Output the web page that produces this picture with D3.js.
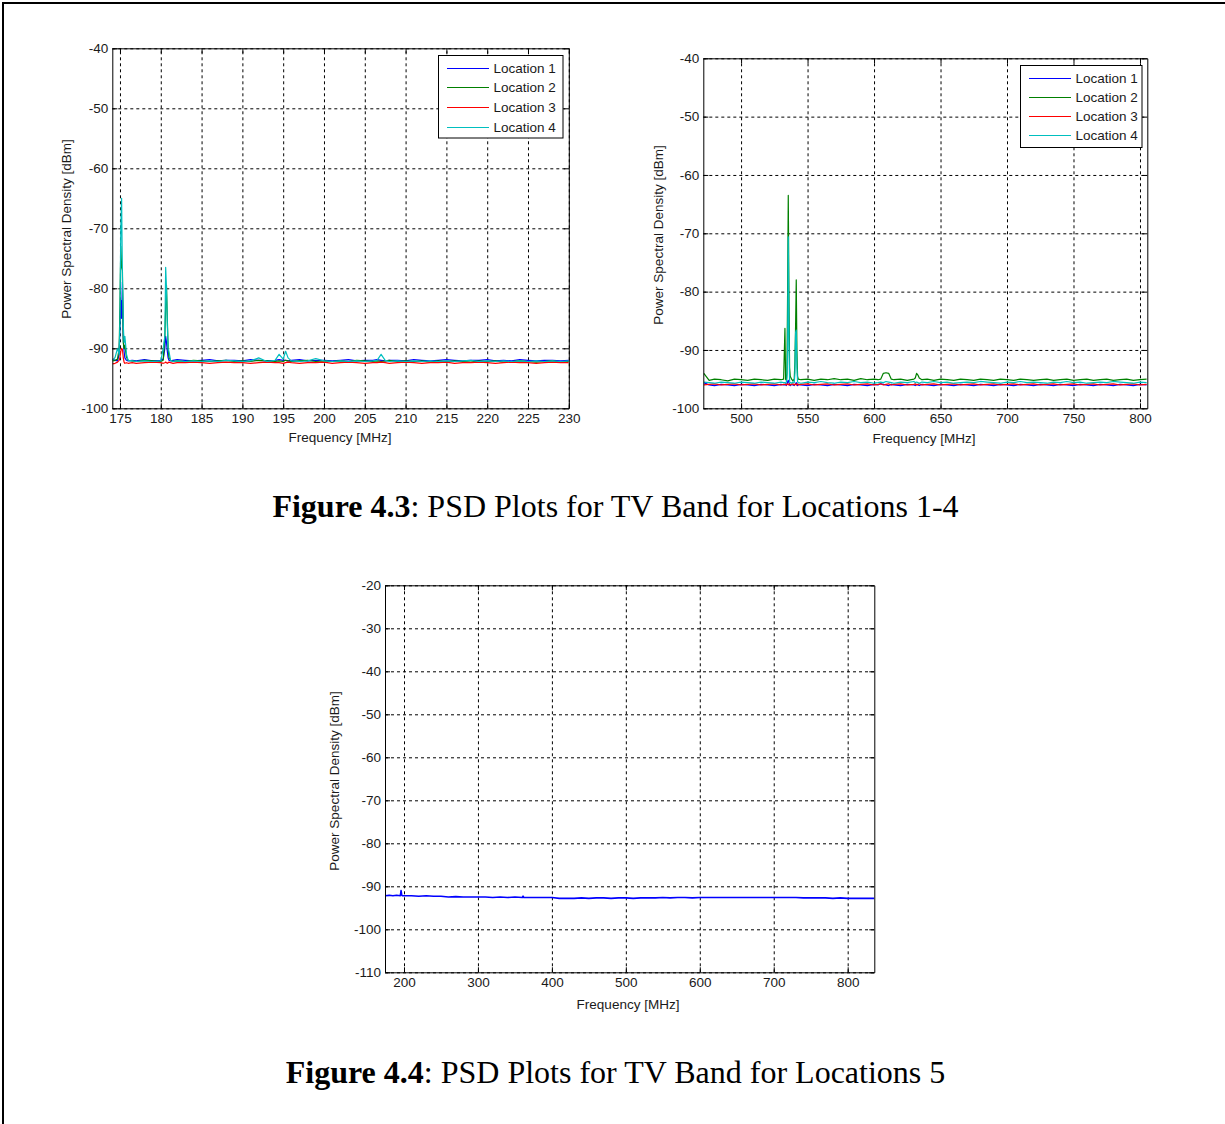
<!DOCTYPE html>
<html><head><meta charset="utf-8">
<script src="https://cdn.jsdelivr.net/npm/d3@7"></script>
<style>body{margin:0;background:#fff}</style>
</head><body>
<svg id="c" width="1225" height="1124"></svg>
<script>
// ---------------- DATA ----------------
const seriesNames = ["Location 1", "Location 2", "Location 3", "Location 4"];
const seriesColors = ["#0000ff", "#008000", "#ff0000", "#00bfbf"];

// Figure 4.3 left panel (MHz)
const freqA = [174.1,174.4,174.7,174.9,175.0,175.1,175.2,175.3,175.4,175.5,
 175.6,175.8,176.0,176.5,177,178,179,180,180.3,180.5,
 180.6,180.7,180.8,180.9,181.0,181.2,181.5,182,183,184,
 185,186,187,188,189,190,191,192,193,194,
 194.5,195,195.3,195.6,196,197,198,199,200,201,
 202,203,204,205,206,206.5,207,207.5,208,209,
 210,211,212,213,214,215,216,217,218,219,
 220,221,222,223,224,225,226,227,228,229,
 230];
const locA1 = [-91.8,-92.0,-92.1,-91.0,-86.0,-82.0,-85.0,-79.0,-88.0,-90.5,
 -91.6,-92.0,-92.1,-92.0,-92.1,-91.9,-92.1,-92.0,-91.8,-90.0,
 -88.0,-89.0,-90.5,-91.6,-92.0,-92.1,-92.0,-91.9,-92.0,-92.1,
 -92.0,-91.9,-92.1,-92.0,-92.0,-92.1,-91.9,-92.0,-92.1,-92.0,
 -91.9,-92.0,-92.0,-92.1,-92.0,-91.9,-92.1,-92.0,-92.0,-92.1,
 -92.0,-91.9,-92.1,-92.0,-92.0,-91.9,-92.0,-92.1,-92.0,-92.0,
 -92.1,-91.9,-92.0,-92.1,-92.0,-91.9,-92.0,-92.1,-92.0,-92.0,
 -91.9,-92.1,-92.0,-92.1,-91.9,-92.0,-92.1,-92.0,-92.0,-92.1,
 -92.0];
const locA2 = [-92.1,-92.0,-91.8,-90.0,-83.0,-73.0,-76.5,-77.0,-89.0,-90.0,
 -89.5,-91.5,-92.0,-92.1,-92.2,-92.0,-92.1,-92.2,-92.0,-88.0,
 -83.0,-79.5,-85.0,-90.0,-91.5,-92.0,-92.2,-92.1,-92.2,-92.0,
 -92.1,-92.2,-92.1,-92.0,-92.2,-92.1,-92.2,-92.0,-92.1,-92.2,
 -92.1,-92.2,-92.0,-92.1,-92.2,-92.1,-92.0,-92.2,-92.1,-92.2,
 -92.1,-92.2,-92.0,-92.1,-92.2,-92.1,-92.2,-92.1,-92.0,-92.2,
 -92.1,-92.2,-92.1,-92.3,-92.1,-92.2,-92.1,-92.2,-92.3,-92.1,
 -92.2,-92.1,-92.3,-92.2,-92.1,-92.2,-92.3,-92.2,-92.1,-92.3,
 -92.2];
const locA3 = [-92.6,-92.5,-92.3,-92.0,-91.5,-90.5,-90.0,-90.2,-91.5,-92.3,
 -92.5,-92.4,-92.5,-92.4,-92.5,-92.4,-92.3,-92.4,-92.5,-92.4,
 -92.3,-92.4,-92.5,-92.4,-92.3,-92.4,-92.5,-92.4,-92.4,-92.3,
 -92.4,-92.5,-92.4,-92.3,-92.4,-92.4,-92.5,-92.4,-92.3,-92.4,
 -92.4,-92.5,-92.4,-92.3,-92.4,-92.5,-92.4,-92.4,-92.3,-92.5,
 -92.4,-92.3,-92.4,-92.5,-92.4,-92.4,-92.3,-92.4,-92.5,-92.4,
 -92.3,-92.4,-92.5,-92.4,-92.4,-92.3,-92.5,-92.4,-92.4,-92.3,
 -92.4,-92.5,-92.4,-92.3,-92.4,-92.4,-92.5,-92.4,-92.3,-92.4,
 -92.4];
const locA4 = [-92.0,-91.5,-90.0,-91.0,-85.0,-70.0,-65.0,-78.0,-86.0,-89.0,
 -88.0,-91.0,-92.0,-92.1,-92.2,-92.1,-92.2,-92.1,-90.0,-88.0,
 -76.5,-80.0,-86.0,-90.0,-90.5,-92.0,-92.2,-92.1,-92.2,-92.1,
 -92.2,-92.1,-92.2,-92.0,-92.1,-92.2,-92.1,-91.6,-92.2,-92.0,
 -91.0,-91.8,-90.5,-91.6,-92.1,-92.2,-92.1,-91.7,-92.1,-92.2,
 -92.1,-92.2,-92.1,-92.2,-92.1,-92.0,-91.0,-92.0,-92.2,-92.1,
 -92.2,-92.1,-92.2,-92.1,-92.2,-92.1,-92.2,-92.1,-92.0,-92.2,
 -92.1,-92.2,-92.1,-92.2,-92.1,-92.2,-92.1,-92.2,-92.1,-92.2,
 -92.1];
const xTicksA = [175,180,185,190,195,200,205,210,215,220,225,230];
const yTicksA = [-100,-90,-80,-70,-60,-50,-40];

// Figure 4.3 right panel (MHz)
const freqB = [472,476,480,485,490,495,500,505,510,515,
 520,525,530,532,533,533.5,534,534.5,535,535.5,
 536,536.5,537,538,539,540,540.5,541,541.5,542,
 542.5,543,545,550,555,560,565,570,575,580,
 585,590,595,600,603,605,607,609,611,613,
 615,620,625,630,631,632,633,634,636,640,
 645,650,655,660,665,670,675,680,685,690,
 695,700,705,710,715,720,725,730,735,740,
 745,750,755,760,765,770,775,780,785,790,
 795,800,805];
const locB1 = [-95.6,-96.0,-96.1,-95.9,-96.0,-96.1,-95.9,-96.0,-96.1,-95.9,
 -96.0,-96.1,-95.9,-96.0,-96.0,-95.9,-96.1,-95.8,-95.5,-95.2,
 -95.6,-96.0,-96.1,-95.9,-96.0,-96.1,-95.9,-95.8,-95.6,-96.0,
 -96.1,-95.9,-96.0,-96.1,-95.9,-96.0,-96.1,-95.9,-96.0,-96.1,
 -95.9,-96.0,-96.1,-95.9,-96.0,-95.8,-95.9,-96.0,-96.1,-95.9,
 -96.0,-96.1,-95.9,-96.0,-96.1,-95.9,-96.0,-96.1,-95.9,-96.0,
 -96.1,-95.9,-96.0,-96.1,-95.9,-96.0,-96.1,-95.9,-96.0,-96.1,
 -95.9,-96.0,-96.1,-95.9,-96.0,-96.1,-95.9,-96.0,-96.1,-95.9,
 -96.0,-96.1,-95.9,-96.0,-96.1,-95.9,-96.0,-96.1,-95.9,-96.0,
 -96.1,-95.9,-96.0];
const locB2 = [-94.0,-95.2,-95.0,-95.1,-95.3,-95.0,-95.1,-95.2,-95.0,-95.1,
 -95.2,-95.0,-95.1,-95.0,-86.3,-95.0,-95.2,-94.0,-80.0,-63.5,
 -80.0,-93.0,-94.5,-95.0,-95.3,-95.0,-92.0,-86.0,-78.0,-90.0,
 -94.5,-95.0,-95.1,-95.0,-95.2,-95.0,-95.1,-94.9,-95.1,-95.0,
 -95.2,-94.9,-95.1,-95.0,-95.1,-95.0,-94.0,-93.9,-94.0,-95.0,
 -95.1,-95.0,-95.2,-95.0,-94.8,-94.0,-94.3,-94.8,-95.1,-95.0,
 -95.2,-95.0,-95.1,-95.2,-95.0,-95.1,-95.2,-95.0,-95.1,-95.2,
 -95.0,-95.1,-95.2,-95.0,-95.1,-95.2,-95.1,-95.0,-95.2,-95.1,
 -95.0,-95.2,-95.1,-95.0,-95.2,-95.1,-95.0,-95.2,-95.1,-95.0,
 -95.2,-95.1,-95.0];
const locB3 = [-96.0,-95.9,-95.8,-96.0,-95.9,-95.8,-96.0,-95.9,-95.8,-96.0,
 -95.9,-95.8,-96.0,-95.9,-95.9,-95.8,-96.0,-95.9,-95.8,-96.0,
 -95.9,-95.8,-96.0,-95.9,-95.8,-96.0,-95.9,-95.8,-96.0,-95.9,
 -95.8,-96.0,-95.9,-95.8,-96.0,-95.9,-95.8,-96.0,-95.9,-95.8,
 -96.0,-95.9,-95.8,-96.0,-95.9,-95.8,-96.0,-95.9,-95.8,-96.0,
 -95.9,-95.8,-96.0,-95.9,-95.8,-96.0,-95.9,-95.8,-96.0,-95.9,
 -95.8,-96.0,-95.9,-95.8,-96.0,-95.9,-95.8,-96.0,-95.9,-95.8,
 -96.0,-95.9,-95.8,-96.0,-95.9,-95.8,-96.0,-95.9,-95.8,-96.0,
 -95.9,-95.8,-96.0,-95.9,-95.8,-96.0,-95.9,-95.8,-96.0,-95.9,
 -95.8,-96.0,-95.9];
const locB4 = [-95.5,-95.6,-95.7,-95.5,-95.6,-95.7,-95.5,-95.6,-95.7,-95.5,
 -95.6,-95.7,-95.5,-95.6,-95.6,-95.7,-95.5,-95.0,-90.0,-70.6,
 -88.0,-95.5,-95.6,-95.7,-95.5,-95.6,-94.0,-87.0,-86.6,-93.0,
 -95.5,-95.6,-95.7,-95.5,-95.6,-95.4,-95.6,-95.7,-95.5,-95.6,
 -95.4,-95.6,-95.5,-95.7,-95.6,-95.5,-95.6,-95.4,-95.5,-95.6,
 -95.7,-95.5,-95.6,-95.4,-95.6,-95.5,-95.6,-95.7,-95.5,-95.6,
 -95.4,-95.6,-95.5,-95.7,-95.6,-95.5,-95.6,-95.4,-95.5,-95.6,
 -95.7,-95.5,-95.6,-95.4,-95.6,-95.5,-95.6,-95.7,-95.5,-95.6,
 -95.4,-95.6,-95.5,-95.7,-95.6,-95.5,-95.6,-95.4,-95.5,-95.6,
 -95.7,-95.5,-95.6];
const xTicksB = [500,550,600,650,700,750,800];
const yTicksB = [-100,-90,-80,-70,-60,-50,-40];

// Figure 4.4 (MHz)
const freqC = [174,180,185,190,195,196,197,198,
 200,210,220,230,240,250,260,270,280,290,300,310,320,330,340,350,360,
 361,362,
 370,380,390,400,410,420,430,440,450,460,
 470,480,490,500,510,520,530,540,550,560,
 570,580,590,600,610,620,630,640,650,660,
 670,680,690,700,710,720,730,740,750,760,
 770,780,790,800,810,820,830,
 836];
const locC5 = [-92.2,-92.1,-92.2,-92.1,-92.2,-91.0,-92.1,-92.2,
 -92.2,-92.2,-92.3,-92.2,-92.3,-92.3,-92.5,-92.4,-92.5,-92.5,-92.5,-92.5,-92.6,-92.5,-92.6,-92.5,-92.6,
 -92.3,-92.6,
 -92.6,-92.6,-92.6,-92.6,-92.8,-92.8,-92.8,-92.7,-92.8,-92.7,
 -92.7,-92.8,-92.7,-92.7,-92.8,-92.7,-92.7,-92.7,-92.6,-92.7,
 -92.6,-92.6,-92.7,-92.6,-92.6,-92.6,-92.6,-92.6,-92.6,-92.6,
 -92.6,-92.6,-92.6,-92.6,-92.6,-92.6,-92.6,-92.7,-92.7,-92.7,
 -92.7,-92.8,-92.7,-92.8,-92.8,-92.8,-92.8,
 -92.8];
const xTicksC = [200,300,400,500,600,700,800];
const yTicksC = [-110,-100,-90,-80,-70,-60,-50,-40,-30,-20];

const xLabel = "Frequency [MHz]";
const yLabel = "Power Spectral Density [dBm]";
const caption1Bold = "Figure 4.3", caption1Rest = ": PSD Plots for TV Band for Locations 1-4";
const caption2Bold = "Figure 4.4", caption2Rest = ": PSD Plots for TV Band for Locations 5";

// ---------------- DRAWING ----------------
const svg = d3.select("#c");
const SANS = "'Liberation Sans', Arial, Helvetica, sans-serif";
const SERIF = "'Liberation Serif', 'Times New Roman', serif";
const FS = 13.5;
const fmt = d => String(d);   // plain hyphen-minus like the original

// page frame
svg.append("path").attr("d", "M3,1130V3H1230").attr("fill", "none")
  .attr("stroke", "#000").attr("stroke-width", 2);

let clipId = 0;
function panel(cfg) {
  const x = d3.scaleLinear().domain(cfg.xDomain).range([cfg.x0, cfg.x1]);
  const y = d3.scaleLinear().domain(cfg.yDomain).range([cfg.y1, cfg.y0]);
  const g = svg.append("g");
  const w = cfg.x1 - cfg.x0, h = cfg.y1 - cfg.y0;

  // grid
  const gx = g.append("g").attr("transform", `translate(0,${cfg.y1})`)
    .call(d3.axisBottom(x).tickValues(cfg.xTicks).tickSize(-h).tickFormat(""));
  const gy = g.append("g").attr("transform", `translate(${cfg.x0},0)`)
    .call(d3.axisLeft(y).tickValues(cfg.yTicks).tickSize(-w).tickFormat(""));
  [gx, gy].forEach(a => {
    a.select(".domain").remove();
    a.selectAll("line").attr("stroke", "#000").attr("stroke-dasharray", "3,3").attr("stroke-width", 1);
  });

  // series
  const id = "clip" + (clipId++);
  g.append("clipPath").attr("id", id).append("rect")
    .attr("x", cfg.x0).attr("y", cfg.y0).attr("width", w).attr("height", h);
  const line = d3.line().x(d => x(d[0])).y(d => y(d[1])).defined(d => d[1] != null);
  cfg.series.forEach(s => {
    g.append("path").attr("clip-path", `url(#${id})`)
      .datum(cfg.freq.map((f, i) => [f, s.values[i]]))
      .attr("d", line).attr("fill", "none").attr("stroke", s.color)
      .attr("stroke-width", cfg.lw || 1.2).attr("stroke-linejoin", "round");
  });

  // axes (ticks pointing inward)
  const styleAxis = a => {
    a.selectAll("text").attr("font-family", SANS).attr("font-size", FS).attr("fill", "#1a1a1a");
    a.selectAll("line,path").attr("stroke", "#000");
  };
  g.append("g").attr("transform", `translate(0,${cfg.y1})`)
    .call(d3.axisBottom(x).tickValues(cfg.xTicks).tickSize(-5).tickSizeOuter(0).tickPadding(5).tickFormat(fmt))
    .call(styleAxis);
  g.append("g").attr("transform", `translate(0,${cfg.y0})`)
    .call(d3.axisTop(x).tickValues(cfg.xTicks).tickSize(-5).tickSizeOuter(0).tickFormat(""))
    .call(styleAxis);
  g.append("g").attr("transform", `translate(${cfg.x0},0)`)
    .call(d3.axisLeft(y).tickValues(cfg.yTicks).tickSize(-5).tickSizeOuter(0).tickPadding(4).tickFormat(fmt))
    .call(styleAxis);
  g.append("g").attr("transform", `translate(${cfg.x1},0)`)
    .call(d3.axisRight(y).tickValues(cfg.yTicks).tickSize(-5).tickSizeOuter(0).tickFormat(""))
    .call(styleAxis);

  // axis labels
  g.append("text").attr("x", cfg.xLabelPos[0]).attr("y", cfg.xLabelPos[1]).attr("dy", "0.35em")
    .attr("text-anchor", "middle").attr("font-family", SANS).attr("font-size", FS).attr("fill", "#1a1a1a").text(xLabel);
  g.append("text").attr("transform", `translate(${cfg.yLabelPos[0]},${cfg.yLabelPos[1]}) rotate(-90)`)
    .attr("dy", "0.35em").attr("text-anchor", "middle").attr("font-family", SANS).attr("font-size", FS)
    .attr("fill", "#1a1a1a").text(yLabel);

  // legend
  if (cfg.legend) {
    const L = cfg.legend;
    const lg = g.append("g");
    lg.append("rect").attr("x", L.x).attr("y", L.y).attr("width", L.w).attr("height", L.h)
      .attr("fill", "#fff").attr("stroke", "#000").attr("stroke-width", 1);
    cfg.series.forEach((s, i) => {
      const yy = Math.round(L.y + L.first + i * L.step) + 0.5;
      lg.append("line").attr("x1", L.x + 8).attr("x2", L.x + 50).attr("y1", yy).attr("y2", yy)
        .attr("stroke", s.color).attr("stroke-width", 1).attr("shape-rendering", "crispEdges");
      lg.append("text").attr("x", L.x + 55).attr("y", yy).attr("dy", "0.35em")
        .attr("font-family", SANS).attr("font-size", FS).attr("fill", "#1a1a1a").text(s.name);
    });
  }
}

panel({
  x0: 112.3, x1: 568.8, y0: 48.3, y1: 408.3,
  xDomain: [174.06, 230], yDomain: [-100, -40],
  xTicks: xTicksA, yTicks: yTicksA, freq: freqA,
  series: [locA1, locA2, locA3, locA4].map((v, i) => ({ values: v, color: seriesColors[i], name: seriesNames[i] })),
  xLabelPos: [340, 437], yLabelPos: [66, 229],
  legend: { x: 438.5, y: 55.5, w: 124.5, h: 82.5, first: 12, step: 19.7 }
});

panel({
  x0: 703.3, x1: 1147.3, y0: 58.3, y1: 408.3,
  xDomain: [471.6, 805.5], yDomain: [-100, -40],
  xTicks: xTicksB, yTicks: yTicksB, freq: freqB,
  series: [locB1, locB2, locB3, locB4].map((v, i) => ({ values: v, color: seriesColors[i], name: seriesNames[i] })),
  xLabelPos: [924, 438], yLabelPos: [658, 235],
  legend: { x: 1020.5, y: 65.5, w: 121.5, h: 82, first: 12, step: 19.3 }
});

panel({
  x0: 385, x1: 874.3, y0: 585.3, y1: 972.3,
  xDomain: [174.3, 836], yDomain: [-110, -20],
  xTicks: xTicksC, yTicks: yTicksC, freq: freqC, lw: 1.6,
  series: [{ values: locC5, color: "#0000ff", name: "Location 5" }],
  xLabelPos: [628, 1004], yLabelPos: [334, 781],
  legend: null
});

// captions
function caption(bold, rest, cx, by) {
  const t = svg.append("text").attr("x", cx).attr("y", by).attr("text-anchor", "middle")
    .attr("font-family", SERIF).attr("font-size", 32).attr("fill", "#000");
  t.append("tspan").attr("font-weight", "bold").text(bold);
  t.append("tspan").text(rest);
}
caption(caption1Bold, caption1Rest, 615.5, 517);
caption(caption2Bold, caption2Rest, 615.5, 1083);
</script>
</body></html>
